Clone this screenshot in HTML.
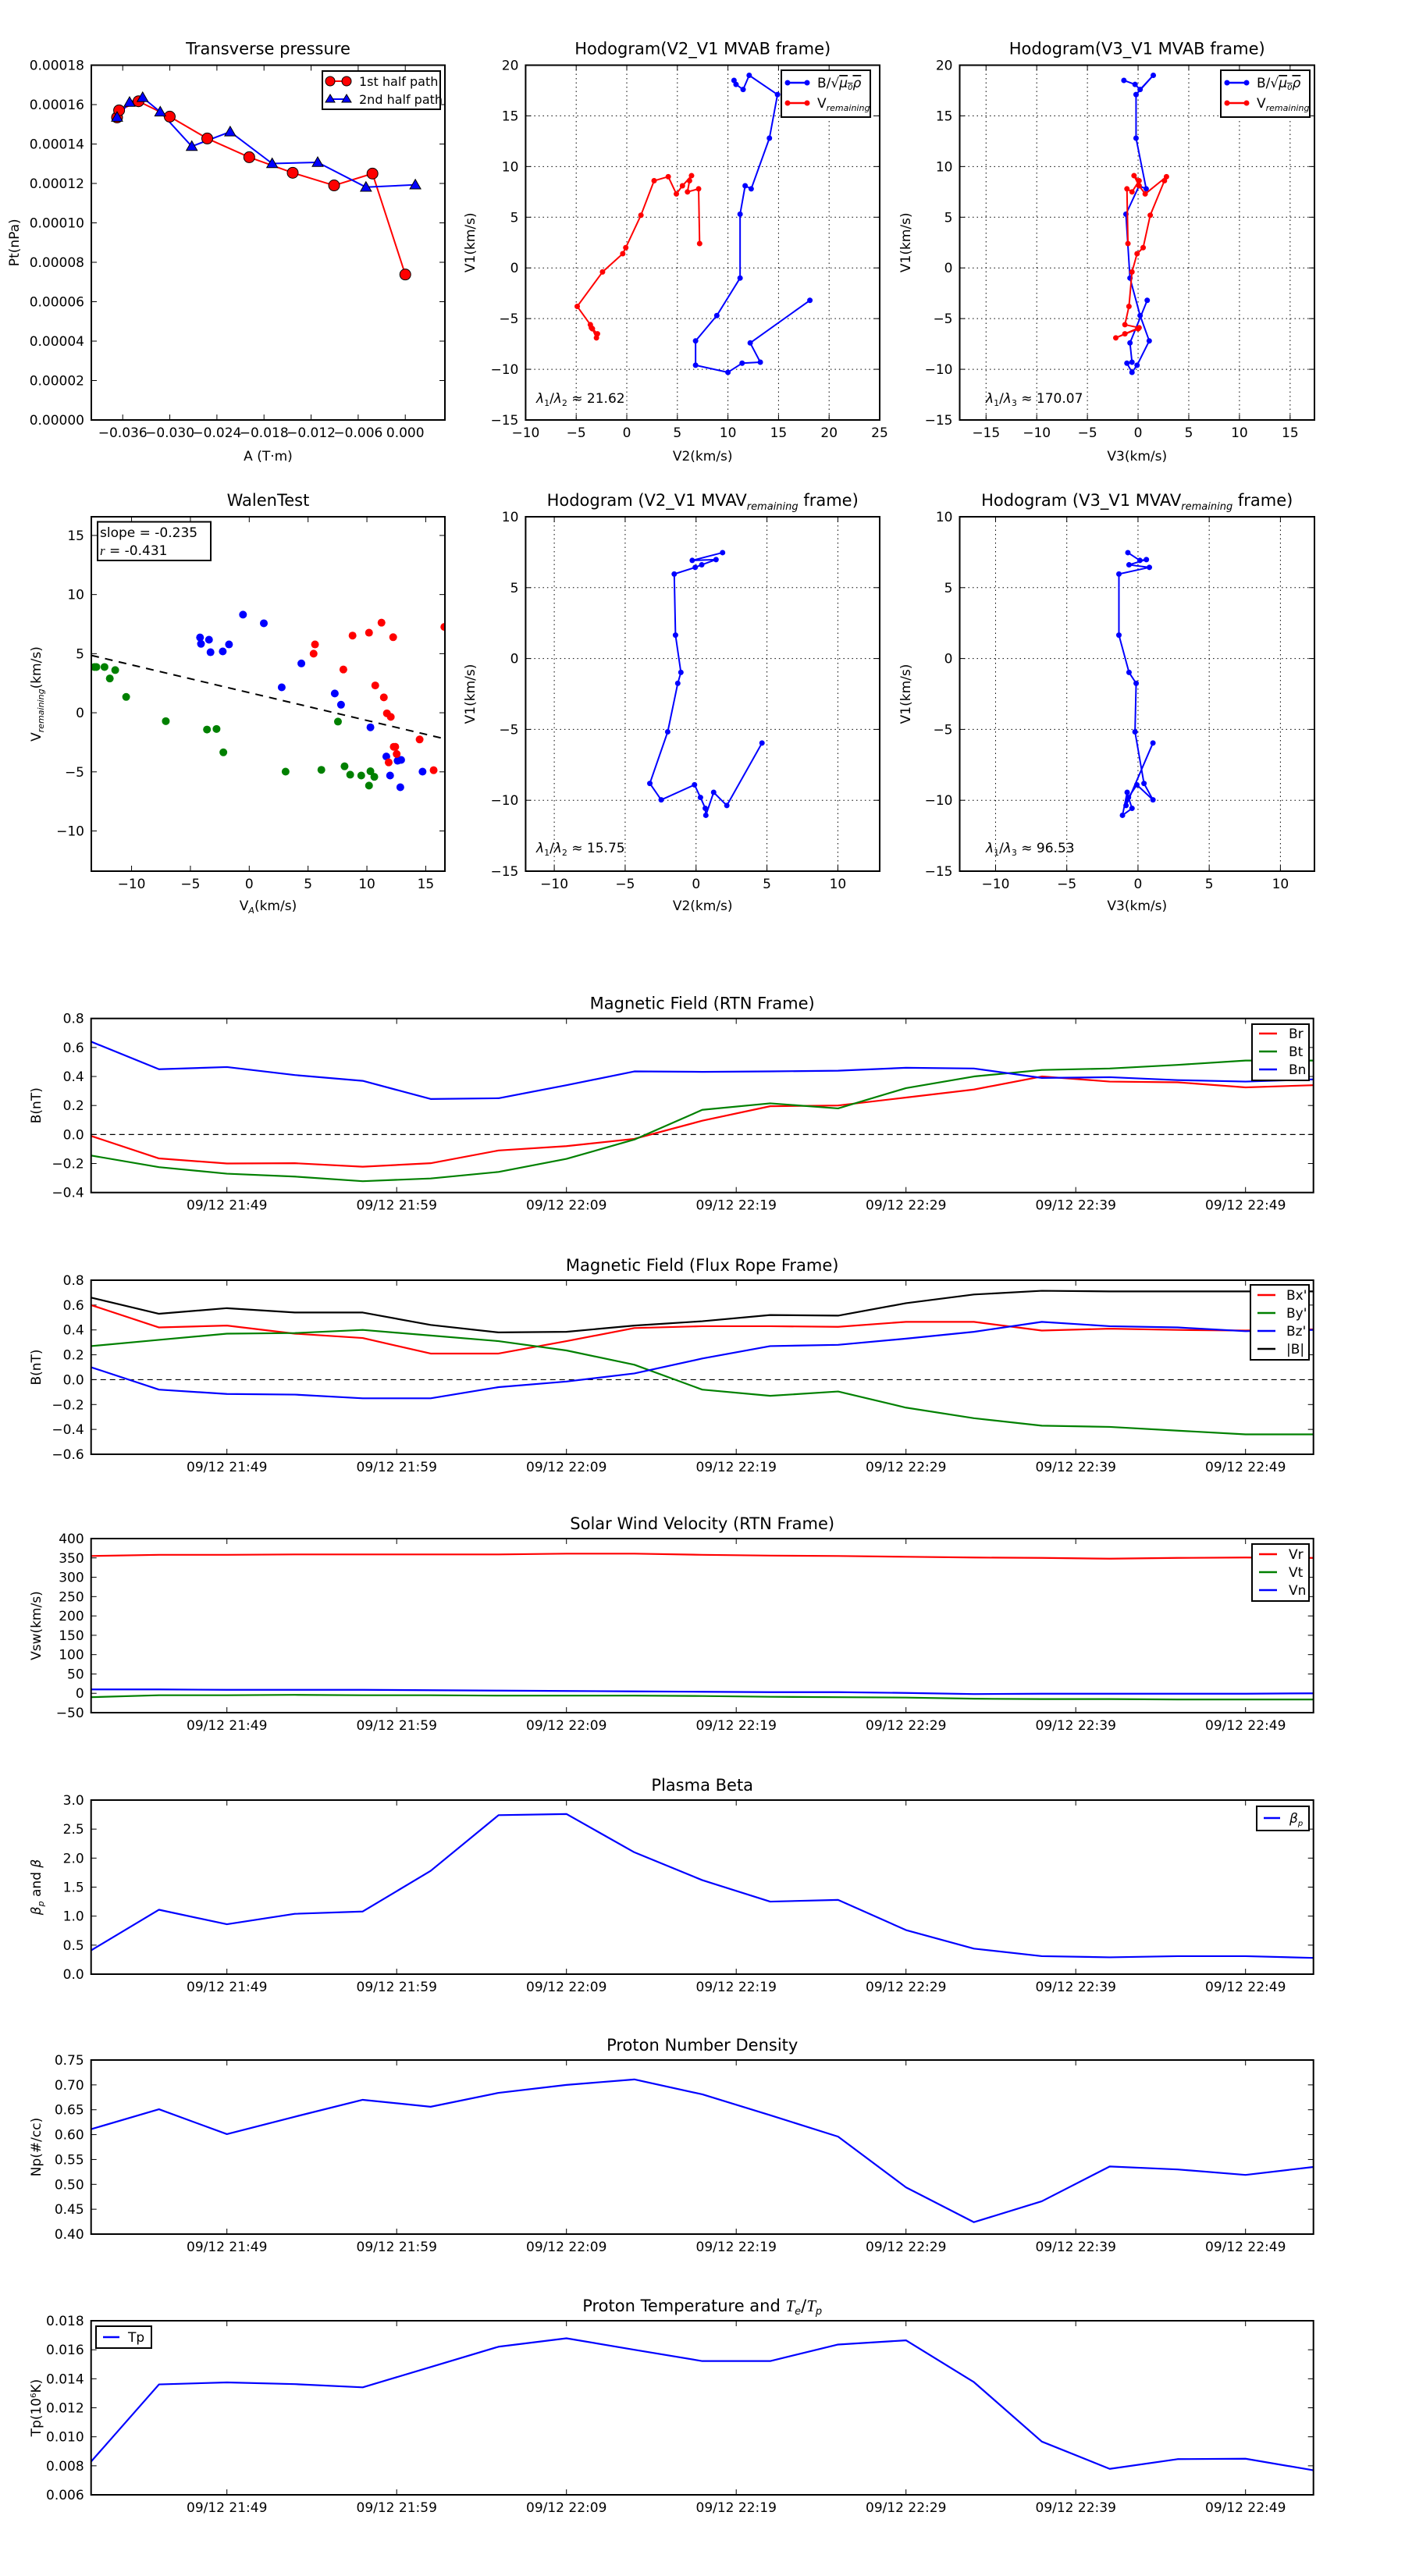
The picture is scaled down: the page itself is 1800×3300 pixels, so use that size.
<!DOCTYPE html>
<html><head><meta charset="utf-8"><title>Flux rope analysis</title>
<style>
html,body{margin:0;padding:0;background:#fff;}
svg{display:block;font-family:"DejaVu Sans","Liberation Sans",sans-serif;}
</style></head>
<body>
<svg id="fig" width="1800" height="3300" viewBox="0 0 1800 3300" xmlns="http://www.w3.org/2000/svg">
<rect x="0" y="0" width="1800" height="3300" fill="#fff"/>
</svg>
<script>
// ===== Data: Transverse pressure =====
const ptA1 = [-0.03672,-0.03646,-0.03399,-0.03001,-0.02523,-0.01988,-0.01434,-0.00907,-0.00418,0.0];
const ptP1 = [0.0001535,0.0001571,0.0001617,0.0001539,0.0001428,0.0001333,0.0001254,0.0001190,0.0001250,0.0000738];
const ptA2 = [-0.03672,-0.03513,-0.03346,-0.03122,-0.02720,-0.02231,-0.01696,-0.01116,-0.00501,0.00128];
const ptP2 = [0.0001536,0.0001612,0.0001636,0.0001563,0.0001388,0.0001462,0.0001301,0.0001307,0.0001181,0.0001193];
const ptXTicks = [-0.036,-0.030,-0.024,-0.018,-0.012,-0.006,0.000];
const ptYTicks = [0,0.00002,0.00004,0.00006,0.00008,0.0001,0.00012,0.00014,0.00016,0.00018];
// ===== Data: MVAB hodograms =====
const hbV1 = [18.5,18.1,17.6,19.0,17.1,12.8,7.8,8.1,5.3,-1.0,-4.7,-7.2,-9.6,-10.3,-9.4,-9.3,-7.4,-3.2];
const hbV2 = [10.6,10.8,11.5,12.1,14.9,14.1,12.3,11.7,11.2,11.2,8.9,6.8,6.8,10.0,11.4,13.2,12.2,18.1];
const hbV3 = [-1.4,-0.3,0.2,1.5,-0.2,-0.2,0.8,0.1,-1.2,-0.8,0.2,1.1,-0.1,-0.6,-1.1,-0.6,-0.8,0.9];
const hvV1 = [2.4,7.8,7.5,8.6,9.1,8.1,7.3,9.0,8.6,5.2,2.0,1.4,-0.4,-3.8,-5.6,-5.9,-6.5,-6.9,-6.0];
const hvV2 = [7.2,7.1,6.0,6.2,6.4,5.5,4.9,4.1,2.7,1.4,-0.1,-0.4,-2.4,-4.9,-3.6,-3.5,-2.9,-3.0,-3.4];
const hvV3 = [-1.0,-1.1,-0.6,0.1,-0.4,0.1,0.7,2.8,2.6,1.2,0.5,-0.1,-0.6,-0.9,-1.3,0.1,-1.3,-2.2,0.0];
// ===== Data: MVAV hodograms =====
const mvV1 = [-5.96,-10.37,-9.44,-11.06,-10.57,-9.80,-8.91,-9.97,-8.81,-5.17,-1.75,-0.98,1.65,5.96,6.43,6.61,6.98,6.92,7.47];
const mvV2 = [4.65,2.17,1.24,0.69,0.65,0.31,-0.11,-2.46,-3.26,-2.0,-1.29,-1.07,-1.45,-1.54,-0.06,0.40,1.41,-0.27,1.87];
const mvV3 = [1.05,-0.84,-0.76,-1.09,-0.42,-0.67,-0.08,1.05,0.42,-0.21,-0.13,-0.63,-1.34,-1.34,0.8,-0.63,0.59,0.13,-0.71];
// ===== Data: Walen test =====
const wbX = [-0.53,1.24,-4.18,-4.10,-3.42,-3.29,-2.25,-1.72,4.43,2.76,7.27,7.80,10.30,11.65,11.97,12.61,12.91,12.84,14.73];
const wbY = [8.30,7.57,6.37,5.83,6.18,5.12,5.19,5.78,4.17,2.15,1.63,0.68,-1.23,-3.70,-5.31,-4.06,-3.99,-6.30,-4.98];
const wrX = [5.59,5.47,8.00,8.78,10.18,11.24,12.23,16.58,10.71,11.44,11.70,12.03,12.28,12.41,12.53,11.85,14.48,15.67];
const wrY = [5.78,5.00,3.66,6.53,6.77,7.62,6.39,7.26,2.31,1.30,-0.05,-0.35,-2.88,-2.88,-3.49,-4.20,-2.26,-4.86];
const wgX = [-13.16,-12.99,-12.30,-11.39,-11.85,-10.46,-7.09,-3.59,-2.78,-2.20,3.09,6.13,8.10,8.58,9.52,10.30,10.63,10.18,7.54];
const wgY = [3.87,3.87,3.87,3.61,2.90,1.34,-0.71,-1.42,-1.37,-3.35,-4.98,-4.83,-4.53,-5.24,-5.31,-4.95,-5.42,-6.16,-0.75];
const walenSlope = -0.235;
const walenIntercept = 1.70;
// ===== Data: time series (4-min cadence 21:41 .. 22:53) =====
const timeTickIdx = [2,4.5,7,9.5,12,14.5,17];
const timeTickLabels = ["09/12 21:49","09/12 21:59","09/12 22:09","09/12 22:19","09/12 22:29","09/12 22:39","09/12 22:49"];
const Br = [-0.01,-0.165,-0.2,-0.198,-0.222,-0.198,-0.11,-0.08,-0.03,0.095,0.195,0.2,0.255,0.31,0.4,0.365,0.36,0.325,0.34];
const Bt = [-0.145,-0.225,-0.27,-0.29,-0.322,-0.303,-0.258,-0.168,-0.035,0.17,0.215,0.18,0.32,0.4,0.445,0.455,0.48,0.51,0.51];
const Bn = [0.64,0.45,0.465,0.41,0.37,0.245,0.25,0.34,0.435,0.432,0.435,0.44,0.46,0.455,0.39,0.395,0.375,0.365,0.38];
const Bxp = [0.6,0.42,0.435,0.37,0.335,0.21,0.21,0.31,0.415,0.43,0.43,0.425,0.465,0.465,0.395,0.41,0.4,0.395,0.405];
const Byp = [0.27,0.32,0.37,0.375,0.40,0.355,0.31,0.235,0.12,-0.08,-0.13,-0.095,-0.225,-0.31,-0.37,-0.38,-0.41,-0.44,-0.44];
const Bzp = [0.10,-0.08,-0.115,-0.12,-0.15,-0.15,-0.06,-0.015,0.05,0.17,0.27,0.28,0.33,0.385,0.465,0.43,0.42,0.39,0.40];
const Bmag = [0.66,0.53,0.575,0.54,0.54,0.44,0.38,0.385,0.435,0.47,0.52,0.515,0.615,0.685,0.715,0.71,0.71,0.71,0.71];
const Vr = [355,358,358,359,359,359,359,361,361,358,356,355,353,351,350,348,350,351,350];
const Vt = [-10,-5,-5,-4,-5,-5,-6,-6,-6,-7,-9,-10,-11,-14,-15,-15,-16,-16,-16];
const Vn = [10,10,9,9,9,8,7,6,5,4,3,3,1,-2,-1,-1,-1,-1,0];
const betaP = [0.41,1.11,0.86,1.04,1.08,1.78,2.74,2.76,2.10,1.62,1.25,1.28,0.76,0.44,0.31,0.29,0.31,0.31,0.28];
const Np = [0.611,0.651,0.601,0.636,0.670,0.656,0.684,0.700,0.711,0.681,0.639,0.596,0.494,0.424,0.466,0.536,0.530,0.519,0.535];
const Tp = [0.00829,0.01361,0.01375,0.01363,0.01341,0.01481,0.01621,0.01679,0.01600,0.01522,0.01522,0.01636,0.01665,0.01377,0.00967,0.00779,0.00846,0.00849,0.00769];

const NS = 'http://www.w3.org/2000/svg';
const svg = document.getElementById('fig');
function mk(tag, attrs, parent) {
  const e = document.createElementNS(NS, tag);
  for (const k in attrs) e.setAttribute(k, attrs[k]);
  (parent || svg).appendChild(e);
  return e;
}
function tx(s, attrs, parent) { const e = mk('text', attrs, parent); e.textContent = s; return e; }
function fmt(v, d) {
  v = Math.round(v * 1e9) / 1e9;
  let s = Math.abs(v).toFixed(d);
  return (v < 0 ? '\u2212' : '') + s;
}
let clipN = 0;
function axes(o) {
  const g = mk('g', {});
  
  
  const sx = v => o.x0 + (v - o.xmin) / (o.xmax - o.xmin) * (o.x1 - o.x0);
  const sy = v => o.y1 - (v - o.ymin) / (o.ymax - o.ymin) * (o.y1 - o.y0);
  const id = 'clip' + (clipN++);
  const cp = mk('clipPath', {id: id}, g);
  mk('rect', {x: o.x0, y: o.y0, width: o.x1 - o.x0, height: o.y1 - o.y0}, cp);
  const fs = o.fs || 17;
  o.xticks.forEach((v, i) => {
    const x = sx(v);
    if (o.grid) mk('line', {x1: x, x2: x, y1: o.y0, y2: o.y1, stroke: '#000', 'stroke-width': 1, 'stroke-dasharray': '1.5,4'}, g);
    mk('line', {x1: x, x2: x, y1: o.y1, y2: o.y1 - 7, stroke: '#000', 'stroke-width': 1}, g);
    mk('line', {x1: x, x2: x, y1: o.y0, y2: o.y0 + 7, stroke: '#000', 'stroke-width': 1}, g);
    const t = tx(o.xlabels ? o.xlabels[i] : o.xfmt(v), {x: x, y: o.y1 + 22, 'text-anchor': 'middle', 'font-size': fs}, g);
    
    
  });
  o.yticks.forEach(v => {
    const y = sy(v);
    if (o.grid) mk('line', {x1: o.x0, x2: o.x1, y1: y, y2: y, stroke: '#000', 'stroke-width': 1, 'stroke-dasharray': '1.5,4'}, g);
    mk('line', {x1: o.x0, x2: o.x0 + 7, y1: y, y2: y, stroke: '#000', 'stroke-width': 1}, g);
    mk('line', {x1: o.x1, x2: o.x1 - 7, y1: y, y2: y, stroke: '#000', 'stroke-width': 1}, g);
    const t = tx(o.yfmt(v), {x: o.x0 - 9, y: y + 6, 'text-anchor': 'end', 'font-size': fs}, g);
    
    
  });
  const data = mk('g', {'clip-path': 'url(#' + id + ')'}, g);
  if (o.title) {
    const t = tx(o.title, {x: (o.x0 + o.x1) / 2, y: o.y0 - (o.titleOff || 14), 'text-anchor': 'middle', 'font-size': o.tfs || 21}, g);
    
    
    if (o.titleHTML) t.innerHTML = o.titleHTML;
  }
  if (o.xlabel) {
    const t = tx(o.xlabel, {x: (o.x0 + o.x1) / 2, y: o.y1 + (o.xlOff || 54), 'text-anchor': 'middle', 'font-size': 17}, g);
    
    
    if (o.xlabelHTML) t.innerHTML = o.xlabelHTML;
  }
  if (o.ylabel) {
    const cy = (o.y0 + o.y1) / 2;
    const t = tx(o.ylabel, {x: o.ylx, y: cy, 'text-anchor': 'middle', 'font-size': 17, transform: 'rotate(-90 ' + o.ylx + ' ' + cy + ')'}, g);
    
    
    if (o.ylabelHTML) t.innerHTML = o.ylabelHTML;
  }
  const frame = mk('rect', {x: o.x0, y: o.y0, width: o.x1 - o.x0, height: o.y1 - o.y0, fill: 'none', stroke: '#000', 'stroke-width': 2}, g);
  
  
  return {g: g, data: data, sx: sx, sy: sy, frame: frame};
}
function poly(ax, xs, ys, color, w, name) {
  const pts = xs.map((x, i) => ax.sx(x).toFixed(2) + ',' + ax.sy(ys[i]).toFixed(2)).join(' ');
  const p = mk('polyline', {points: pts, fill: 'none', stroke: color, 'stroke-width': w, 'stroke-linejoin': 'round'}, ax.data);
  
  
  return p;
}
function dots(ax, xs, ys, color, r, stroke, name) {
  xs.forEach((x, i) => {
    const c = mk('circle', {cx: ax.sx(x), cy: ax.sy(ys[i]), r: r, fill: color, stroke: stroke || 'none', 'stroke-width': 1}, ax.data);
    
    
  });
}
function tris(ax, xs, ys, color, s, name) {
  xs.forEach((x, i) => {
    const cx = ax.sx(x), cy = ax.sy(ys[i]);
    const t = mk('polygon', {points: (cx) + ',' + (cy - s) + ' ' + (cx - s) + ',' + (cy + s * 0.75) + ' ' + (cx + s) + ',' + (cy + s * 0.75), fill: color, stroke: '#000', 'stroke-width': 1}, ax.data);
    
    
  });
}
function legendBox(x, y, w, h) {
  const r = mk('rect', {x: x, y: y, width: w, height: h, fill: '#fff', stroke: '#000', 'stroke-width': 2});
  
  
}
function legendEntry(x1, x2, y, color, label, tx0, html, marker) {
  const l = mk('line', {x1: x1, x2: x2, y1: y, y2: y, stroke: color, 'stroke-width': 2.5});
  
  
  if (marker) { mk('circle', {cx: x1, cy: y, r: marker, fill: color}); mk('circle', {cx: x2, cy: y, r: marker, fill: color}); }
  const t = tx(label, {x: tx0, y: y + 6, 'font-size': 17});
  if (html) t.innerHTML = html;
  
  
}
const f1 = v => fmt(v, 0);
const tk = (a, b, s) => { const r = []; for (let v = a; v <= b + 1e-9; v += s) r.push(v); return r; };

const R1T = 83.5, R1B = 538, R2T = 662, R2B = 1116;
const C1L = 117, C1R = 570, C2L = 673.4, C2R = 1127, C3L = 1229.5, C3R = 1684;

// ===== Panel 1: Transverse pressure =====
const a1 = axes({name: 'transverse-pressure-chart', x0: C1L, x1: C1R, y0: R1T, y1: R1B, xmin: -0.040, xmax: 0.00505, ymin: 0, ymax: 0.00018,
  xticks: ptXTicks, yticks: ptYTicks, xfmt: v => fmt(v, 3), yfmt: v => fmt(v, 5), title: 'Transverse pressure', xlabel: 'A (T\u00b7m)', ylabel: 'Pt(nPa)', ylx: 24, xlOff: 52});
poly(a1, ptA1, ptP1, '#f00', 2, 'first-half-path-line');
poly(a1, ptA2, ptP2, '#00f', 2, 'second-half-path-line');
dots(a1, ptA1, ptP1, '#f00', 7, '#000', 'first-half-point');
tris(a1, ptA2, ptP2, '#00f', 7, 'second-half-point');
legendBox(413, 91, 151, 49);
mk('line', {x1: 423, x2: 444, y1: 104, y2: 104, stroke: '#f00', 'stroke-width': 2});
mk('circle', {cx: 423, cy: 104, r: 6, fill: '#f00', stroke: '#000'});
mk('circle', {cx: 444, cy: 104, r: 6, fill: '#f00', stroke: '#000'});
const le1 = tx('1st half path', {x: 460, y: 110, 'font-size': 16});


mk('line', {x1: 423, x2: 444, y1: 127, y2: 127, stroke: '#00f', 'stroke-width': 2});
mk('polygon', {points: '423,121 417,131 429,131', fill: '#00f', stroke: '#000'});
mk('polygon', {points: '444,121 438,131 450,131', fill: '#00f', stroke: '#000'});
const le2 = tx('2nd half path', {x: 460, y: 133, 'font-size': 16});



// ===== Panel 2: Hodogram V2_V1 MVAB =====
const a2 = axes({name: 'hodogram-v2-v1-mvab', x0: C2L, x1: C2R, y0: R1T, y1: R1B, xmin: -10, xmax: 25, ymin: -15, ymax: 20,
  xticks: tk(-10, 25, 5), yticks: tk(-15, 20, 5), xfmt: f1, yfmt: f1, grid: true, title: 'Hodogram(V2_V1 MVAB frame)', xlabel: 'V2(km/s)', ylabel: 'V1(km/s)', ylx: 608, xlOff: 52});
poly(a2, hbV2, hbV1, '#00f', 2, 'b-hodogram-line');
dots(a2, hbV2, hbV1, '#00f', 3.5, null, 'b-hodogram-point');
poly(a2, hvV2, hvV1, '#f00', 2, 'v-remaining-line');
dots(a2, hvV2, hvV1, '#f00', 3.5, null, 'v-remaining-point');
function lamText(x, y, sub, val) {
  const t = tx('', {x: x, y: y, 'font-size': 17});
  t.innerHTML = '<tspan font-style="italic">\u03bb</tspan><tspan font-size="11" dy="4">1</tspan><tspan dy="-4">/</tspan><tspan font-style="italic">\u03bb</tspan><tspan font-size="11" dy="4">' + sub + '</tspan><tspan dy="-4"> \u2248 ' + val + '</tspan>';
  
  
}
lamText(687, 516, '2', '21.62');
legendBox(1001, 90, 114, 60);
legendEntry(1009, 1034, 106, '#00f', 'B/√μ0ρ', 1047, 'B/\u221a<tspan text-decoration="overline" font-style="italic">\u03bc<tspan font-size="10" dy="3">0</tspan><tspan dy="-3">\u03c1</tspan></tspan>', 3.5);
legendEntry(1009, 1034, 132, '#f00', 'Vremaining', 1047, 'V<tspan font-size="11" font-style="italic" dy="4">remaining</tspan>', 3.5);

// ===== Panel 3: Hodogram V3_V1 MVAB =====
const a3 = axes({name: 'hodogram-v3-v1-mvab', x0: C3L, x1: C3R, y0: R1T, y1: R1B, xmin: -17.6, xmax: 17.4, ymin: -15, ymax: 20,
  xticks: tk(-15, 15, 5), yticks: tk(-15, 20, 5), xfmt: f1, yfmt: f1, grid: true, title: 'Hodogram(V3_V1 MVAB frame)', xlabel: 'V3(km/s)', ylabel: 'V1(km/s)', ylx: 1166, xlOff: 52});
poly(a3, hbV3, hbV1, '#00f', 2, 'b-hodogram-line');
dots(a3, hbV3, hbV1, '#00f', 3.5, null, 'b-hodogram-point');
poly(a3, hvV3, hvV1, '#f00', 2, 'v-remaining-line');
dots(a3, hvV3, hvV1, '#f00', 3.5, null, 'v-remaining-point');
lamText(1263, 516, '3', '170.07');
legendBox(1564, 90, 114, 60);
legendEntry(1572, 1597, 106, '#00f', 'B/√μ0ρ', 1610, 'B/\u221a<tspan text-decoration="overline" font-style="italic">\u03bc<tspan font-size="10" dy="3">0</tspan><tspan dy="-3">\u03c1</tspan></tspan>', 3.5);
legendEntry(1572, 1597, 132, '#f00', 'Vremaining', 1610, 'V<tspan font-size="11" font-style="italic" dy="4">remaining</tspan>', 3.5);

// ===== Panel 4: Walen test =====
const a4 = axes({name: 'walen-test-chart', x0: C1L, x1: C1R, y0: R2T, y1: R2B, xmin: -13.42, xmax: 16.63, ymin: -13.4, ymax: 16.58,
  xticks: tk(-10, 15, 5), yticks: tk(-10, 15, 5), xfmt: f1, yfmt: f1, title: 'WalenTest', xlabel: 'VA(km/s)', xlabelHTML: 'V<tspan font-size="11" font-style="italic" dy="4">A</tspan><tspan dy="-4">(km/s)</tspan>', ylabel: 'Vremaining(km/s)', ylabelHTML: 'V<tspan font-size="11" font-style="italic" dy="4">remaining</tspan><tspan dy="-4">(km/s)</tspan>', ylx: 52, xlOff: 50});
const wl = mk('line', {x1: a4.sx(-13.42), y1: a4.sy(walenSlope * -13.42 + walenIntercept), x2: a4.sx(16.63), y2: a4.sy(walenSlope * 16.63 + walenIntercept), stroke: '#000', 'stroke-width': 2, 'stroke-dasharray': '10,8'}, a4.data);


dots(a4, wbX, wbY, '#00f', 5, null, 'walen-point-blue');
dots(a4, wrX, wrY, '#f00', 5, null, 'walen-point-red');
dots(a4, wgX, wgY, '#008000', 5, null, 'walen-point-green');
const sb = mk('rect', {x: 125, y: 668.5, width: 145, height: 49.5, fill: '#fff', stroke: '#000', 'stroke-width': 2});


const st1 = tx('slope = -0.235', {x: 128, y: 688, 'font-size': 17});


const st2 = tx('', {x: 128, y: 711, 'font-size': 17});
st2.innerHTML = '<tspan font-style="italic" font-family="Liberation Serif, serif">r</tspan> = -0.431';



// ===== Panel 5: Hodogram V2_V1 MVAV =====
const a5 = axes({name: 'hodogram-v2-v1-mvav', x0: C2L, x1: C2R, y0: R2T, y1: R2B, xmin: -12.02, xmax: 12.95, ymin: -15, ymax: 10,
  xticks: tk(-10, 10, 5), yticks: tk(-15, 10, 5), xfmt: f1, yfmt: f1, grid: true, title: 'Hodogram (V2_V1 MVAV frame)',
  titleHTML: 'Hodogram (V2_V1 MVAV<tspan font-size="13" font-style="italic" dy="5">remaining</tspan><tspan dy="-5"> frame)</tspan>', xlabel: 'V2(km/s)', ylabel: 'V1(km/s)', ylx: 608, xlOff: 50});
poly(a5, mvV2, mvV1, '#00f', 2, 'mvav-hodogram-line');
dots(a5, mvV2, mvV1, '#00f', 3.5, null, 'mvav-hodogram-point');
lamText(687, 1092, '2', '15.75');

// ===== Panel 6: Hodogram V3_V1 MVAV =====
const a6 = axes({name: 'hodogram-v3-v1-mvav', x0: C3L, x1: C3R, y0: R2T, y1: R2B, xmin: -12.52, xmax: 12.39, ymin: -15, ymax: 10,
  xticks: tk(-10, 10, 5), yticks: tk(-15, 10, 5), xfmt: f1, yfmt: f1, grid: true, title: 'Hodogram (V3_V1 MVAV frame)',
  titleHTML: 'Hodogram (V3_V1 MVAV<tspan font-size="13" font-style="italic" dy="5">remaining</tspan><tspan dy="-5"> frame)</tspan>', xlabel: 'V3(km/s)', ylabel: 'V1(km/s)', ylx: 1166, xlOff: 50});
poly(a6, mvV3, mvV1, '#00f', 2, 'mvav-hodogram-line');
dots(a6, mvV3, mvV1, '#00f', 3.5, null, 'mvav-hodogram-point');
lamText(1263, 1092, '3', '96.53');

// ===== Time series panels =====
const idx = Br.map((_, i) => i);
const TL = 116.7, TR = 1682.7, TH = 223;
function tsAxes(name, top, ymin, ymax, yt, dec, title, ylabel, ylabelHTML, titleHTML) {
  return axes({name: name, x0: TL, x1: TR, y0: top, y1: top + TH, xmin: 0, xmax: 18, ymin: ymin, ymax: ymax,
    xticks: timeTickIdx, xlabels: timeTickLabels, yticks: yt, yfmt: v => fmt(v, dec), title: title, titleHTML: titleHTML, titleOff: 12, tfs: 21,
    ylabel: ylabel, ylabelHTML: ylabelHTML, ylx: 52});
}
function zeroLine(ax) {
  const z = mk('line', {x1: TL, x2: TR, y1: ax.sy(0), y2: ax.sy(0), stroke: '#000', 'stroke-width': 1.2, 'stroke-dasharray': '7,5'}, ax.data);
  
  
}
const t1 = tsAxes('magnetic-field-rtn-chart', 1304.7, -0.4, 0.8, tk(-0.4, 0.8, 0.2), 1, 'Magnetic Field (RTN Frame)', 'B(nT)');
zeroLine(t1);
poly(t1, idx, Br, '#f00', 2.2, 'br-line');
poly(t1, idx, Bt, '#008000', 2.2, 'bt-line');
poly(t1, idx, Bn, '#00f', 2.2, 'bn-line');
legendBox(1604, 1312, 73, 72);
legendEntry(1613, 1636, 1324, '#f00', 'Br', 1651);
legendEntry(1613, 1636, 1347, '#008000', 'Bt', 1651);
legendEntry(1613, 1636, 1370, '#00f', 'Bn', 1651);

const t2 = tsAxes('magnetic-field-flux-rope-chart', 1640, -0.6, 0.8, tk(-0.6, 0.8, 0.2), 1, 'Magnetic Field (Flux Rope Frame)', 'B(nT)');
zeroLine(t2);
poly(t2, idx, Bxp, '#f00', 2.2, 'bx-prime-line');
poly(t2, idx, Byp, '#008000', 2.2, 'by-prime-line');
poly(t2, idx, Bzp, '#00f', 2.2, 'bz-prime-line');
poly(t2, idx, Bmag, '#000', 2.2, 'b-magnitude-line');
legendBox(1602, 1646, 75, 96);
legendEntry(1611, 1634, 1659, '#f00', "Bx'", 1648);
legendEntry(1611, 1634, 1682, '#008000', "By'", 1648);
legendEntry(1611, 1634, 1705, '#00f', "Bz'", 1648);
legendEntry(1611, 1634, 1728, '#000', '|B|', 1648);

const t3 = tsAxes('solar-wind-velocity-chart', 1971, -50, 400, tk(-50, 400, 50), 0, 'Solar Wind Velocity (RTN Frame)', 'Vsw(km/s)');
poly(t3, idx, Vr, '#f00', 2.2, 'vr-line');
poly(t3, idx, Vt, '#008000', 2.2, 'vt-line');
poly(t3, idx, Vn, '#00f', 2.2, 'vn-line');
legendBox(1604, 1978, 73, 73);
legendEntry(1613, 1636, 1991, '#f00', 'Vr', 1651);
legendEntry(1613, 1636, 2014, '#008000', 'Vt', 1651);
legendEntry(1613, 1636, 2037, '#00f', 'Vn', 1651);

const t4 = tsAxes('plasma-beta-chart', 2306, 0, 3, tk(0, 3, 0.5), 1, 'Plasma Beta', 'βp and β',
  '<tspan font-style="italic">\u03b2</tspan><tspan font-size="11" font-style="italic" dy="4">p</tspan><tspan dy="-4"> and </tspan><tspan font-style="italic">\u03b2</tspan>');
poly(t4, idx, betaP, '#00f', 2.2, 'beta-p-line');
legendBox(1610, 2314, 67, 31);
legendEntry(1619, 1640, 2329, '#00f', 'βp', 1652, '<tspan font-style="italic">\u03b2</tspan><tspan font-size="10" font-style="italic" dy="4">p</tspan>');

const t5 = tsAxes('proton-density-chart', 2639, 0.40, 0.75, tk(0.40, 0.75, 0.05), 2, 'Proton Number Density', 'Np(#/cc)');
poly(t5, idx, Np, '#00f', 2.2, 'np-line');

const t6 = tsAxes('proton-temperature-chart', 2973, 0.006, 0.018, tk(0.006, 0.018, 0.002), 3, 'Proton Temperature and Te/Tp', 'Tp(10^6K)',
  'Tp(10<tspan font-size="10" dy="-6">6</tspan><tspan dy="6">K)</tspan>',
  'Proton Temperature and <tspan font-style="italic" font-family="Liberation Serif, serif">T</tspan><tspan font-size="13" font-style="italic" dy="4">e</tspan><tspan dy="-4">/</tspan><tspan font-style="italic" font-family="Liberation Serif, serif">T</tspan><tspan font-size="13" font-style="italic" dy="4">p</tspan>');
poly(t6, idx, Tp, '#00f', 2.2, 'tp-line');
legendBox(123, 2980, 71, 28);
legendEntry(132, 153, 2994, '#00f', 'Tp', 164);
</script>
</body></html>
